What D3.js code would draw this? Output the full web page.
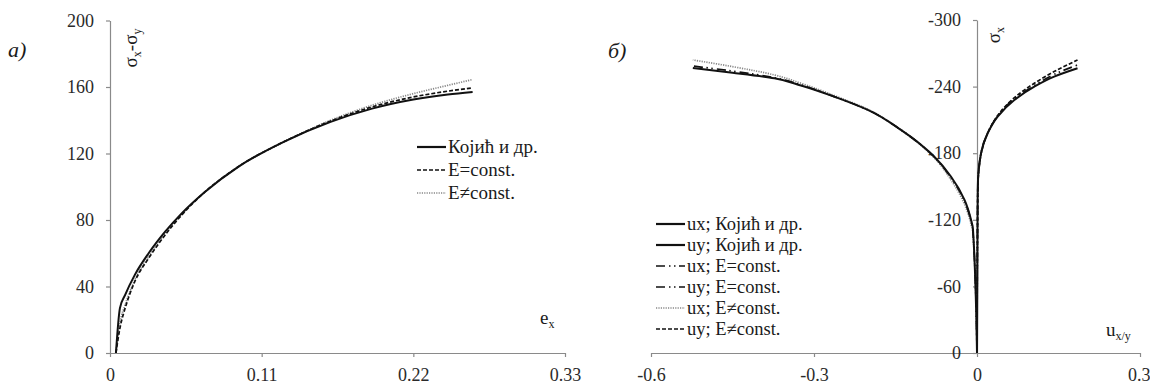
<!DOCTYPE html>
<html>
<head>
<meta charset="utf-8">
<script src="https://cdn.jsdelivr.net/npm/d3@7"></script>
<style>
    body { margin: 0; background: #fff; }
    .axis path, .axis line { stroke: #8a8a8a; stroke-width: 1.2; }
</style>
</head>
<body>
<script>
// ---- data: left panel (a)
var strainX = [0.0043, 0.0072, 0.011, 0.018, 0.028, 0.04, 0.052, 0.069, 0.093, 0.126, 0.16, 0.19, 0.22, 0.245, 0.263];
var stressKojic = [0, 27, 35, 47, 60, 73, 84, 97, 112, 127, 139, 147, 152.5, 155.5, 157];
var stressEconst = [0, 15, 27, 43, 57, 71, 83, 97, 112, 127, 139.5, 148, 154, 157.5, 159.5];
var stressEvar = [0, 18, 29, 44, 58, 72, 83.5, 97, 112, 127, 140, 149, 156, 161, 164.5];
var leftNames = ["Којић и др.", "E=const.", "E≠const."];
var leftXTicks = [0, 0.11, 0.22, 0.33];
var leftYTicks = [0, 40, 80, 120, 160, 200];

// ---- data: right panel (б)
var uxDisp = [0, -0.0075, -0.011, -0.023, -0.048, -0.079, -0.14, -0.201, -0.263, -0.324, -0.373, -0.45, -0.523];
var uxKojic = [0, -112, -120, -138, -159, -177, -201, -219, -231, -241, -247.5, -252.5, -256.7];
var uxEconst = [0, -110, -119, -137, -158, -177, -201, -219, -231, -241.5, -248, -254, -258.5];
var uxEvar = [0, -108, -116, -134, -156, -176, -201, -219.5, -232, -243, -250.5, -258, -264];
var uyDisp = [0, 0.001, 0.0015, 0.0074, 0.0196, 0.038, 0.0687, 0.1055, 0.142, 0.185];
var uyKojic = [0, -120, -150, -180, -198, -213, -228, -240, -249, -256.5];
var uyEconst = [0, -118, -149, -180, -198, -213.5, -229, -241, -251, -259.5];
var uyEvar = [0, -116, -148, -179, -198, -214, -230, -243, -253.5, -264];
var rightNames = ["ux; Којић и др.", "uy; Којић и др.", "ux; E=const.", "uy; E=const.", "ux; E≠const.", "uy; E≠const."];
var rightXTicks = [-0.6, -0.3, 0, 0.3];
var rightYTicks = [0, -60, -120, -180, -240, -300];

// line styles (solid, dashed, dotted, dash-dot-dot)
var styles = {
    solid:   {dash: null, color: "#111", width: 2},
    dashed:  {dash: "4,2", color: "#111", width: 1.7},
    dotted:  {dash: "1.2,1.2", color: "#888", width: 1.7},
    dashdot: {dash: "9,4,1.5,3.5,1.5,3.5", color: "#111", width: 1.7}
};

var serif = "'Liberation Serif'";

var canvasWidth = 1150,
    canvasHeight = 387;

var figure = d3.select("body")
    .append("svg")
        .attr("width", canvasWidth)
        .attr("height", canvasHeight);

var fmt = function(d) { return String(d).replace("\u2212", "-"); };

function zip(xs, ys) {
    return xs.map(function(v, i) { return [v, ys[i]]; });
}

function addText(x, y, size) {
    return figure.append("text")
        .attr("x", x).attr("y", y)
        .style("font-family", serif)
        .style("font-size", size + "px")
        .style("fill", "#1a1a1a");
}

function drawCurve(x, y, pts, st, curve) {
    var line = d3.line()
        .x(function(d) { return x(d[0]); })
        .y(function(d) { return y(d[1]); })
        .curve(curve);
    figure.append("path")
        .attr("d", line(pts))
        .attr("fill", "none")
        .attr("stroke", st.color)
        .attr("stroke-width", st.width)
        .attr("stroke-dasharray", st.dash);
}

function legendRow(x0, yc, name, st, size) {
    figure.append("line")
        .attr("x1", x0).attr("x2", x0 + 29)
        .attr("y1", yc).attr("y2", yc)
        .attr("stroke", st.color)
        .attr("stroke-width", st.dash ? st.width : 2.2)
        .attr("stroke-dasharray", st.dash);
    addText(x0 + 31, yc + 6, size).text(name);
}

function addAxis(axis, transform) {
    var g = figure.append("g")
        .attr("class", "axis")
        .attr("transform", transform)
        .call(axis);
    g.selectAll("text")
        .style("font-family", serif)
        .style("font-size", "18px")
        .style("fill", "#2a2a2a");
    return g;
}

// ===== left panel =====
var xL = d3.scaleLinear().domain([0, 0.33]).range([110, 565]);
var yL = d3.scaleLinear().domain([0, 200]).range([353, 20.5]);

addAxis(d3.axisBottom(xL).tickValues(leftXTicks).tickSizeInner(4).tickSizeOuter(0).tickPadding(11).tickFormat(fmt),
    "translate(0," + yL(0) + ")");
addAxis(d3.axisLeft(yL).tickValues(leftYTicks).tickSizeInner(4).tickSizeOuter(0).tickPadding(12).tickFormat(fmt),
    "translate(" + xL(0) + ",0)");

drawCurve(xL, yL, zip(strainX, stressEvar), styles.dotted, d3.curveMonotoneX);
drawCurve(xL, yL, zip(strainX, stressEconst), styles.dashed, d3.curveMonotoneX);
drawCurve(xL, yL, zip(strainX, stressKojic), styles.solid, d3.curveMonotoneX);

legendRow(417, 147, leftNames[0], styles.solid, 19);
legendRow(417, 170, leftNames[1], styles.dashed, 19);
legendRow(417, 193, leftNames[2], styles.dotted, 19);

// axis labels (a)
var lblY = addText(0, 0, 19)
    .attr("transform", "translate(137,48) rotate(-90)")
    .attr("text-anchor", "middle");
lblY.append("tspan").text("σ");
lblY.append("tspan").attr("dy", 4).style("font-size", "12px").text("x");
lblY.append("tspan").attr("dy", -4).text("-σ");
lblY.append("tspan").attr("dy", 4).style("font-size", "12px").text("y");

var lblX = addText(540, 324, 19);
lblX.append("tspan").text("e");
lblX.append("tspan").attr("dy", 4).style("font-size", "12px").text("x");

addText(8, 57, 22)
    .style("font-style", "italic")
    .text("а)");

// ===== right panel =====
var xR = d3.scaleLinear().domain([-0.6, 0.3]).range([651, 1140]);
var yR = d3.scaleLinear().domain([0, -300]).range([353, 20]);

var xAxisR = addAxis(d3.axisBottom(xR).tickValues(rightXTicks).tickSizeInner(4).tickSizeOuter(0).tickPadding(11).tickFormat(fmt),
    "translate(0," + yR(0) + ")");
// keep the last label inside the window
xAxisR.selectAll(".tick text")
    .filter(function(d) { return d === 0.3; })
    .attr("text-anchor", "end")
    .attr("dx", 10);
addAxis(d3.axisLeft(yR).tickValues(rightYTicks).tickSizeInner(4).tickSizeOuter(0).tickPadding(12).tickFormat(fmt),
    "translate(" + xR(0) + ",0)");

drawCurve(xR, yR, zip(uxDisp, uxEvar), styles.dotted, d3.curveMonotoneY);
drawCurve(xR, yR, zip(uyDisp, uyEvar), styles.dashed, d3.curveMonotoneY);
drawCurve(xR, yR, zip(uxDisp, uxEconst), styles.dashdot, d3.curveMonotoneY);
drawCurve(xR, yR, zip(uyDisp, uyEconst), styles.dashdot, d3.curveMonotoneY);
drawCurve(xR, yR, zip(uxDisp, uxKojic), styles.solid, d3.curveMonotoneY);
drawCurve(xR, yR, zip(uyDisp, uyKojic), styles.solid, d3.curveMonotoneY);

var rightStyles = [styles.solid, styles.solid, styles.dashdot, styles.dashdot, styles.dotted, styles.dashed];
rightNames.forEach(function(name, i) {
    legendRow(656, 224 + i * 21, name, rightStyles[i], 18.5);
});

var lblS = addText(0, 0, 19)
    .attr("transform", "translate(1000,35) rotate(-90)")
    .attr("text-anchor", "middle");
lblS.append("tspan").text("σ");
lblS.append("tspan").attr("dy", 4).style("font-size", "12px").text("x");

var lblU = addText(1106, 336, 19);
lblU.append("tspan").text("u");
lblU.append("tspan").attr("dy", 4).style("font-size", "12px").text("x/y");

addText(608, 58, 22)
    .style("font-style", "italic")
    .text("б)");
</script>
</body>
</html>
